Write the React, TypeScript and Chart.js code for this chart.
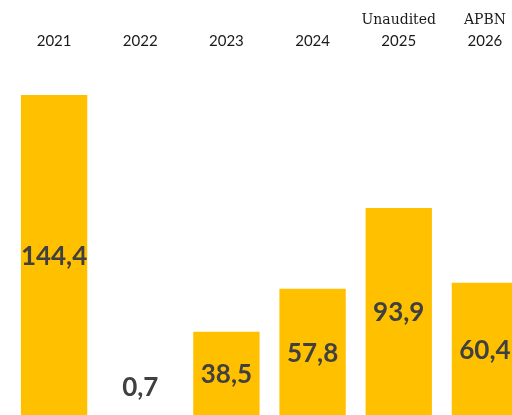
import React, { useEffect, useRef } from "react";
import { Chart, registerables } from "chart.js";

Chart.register(...registerables);

const years = ["2021", "2022", "2023", "2024", "2025", "2026"];
const topNotes = ["", "", "", "", "Unaudited", "APBN"];
const values = [144.4, 0.7, 38.5, 57.8, 93.9, 60.4];

const valueLabels = {
  id: "valueLabels",
  afterDatasetsDraw(chart: any) {
    const ctx = chart.ctx;
    const meta = chart.getDatasetMeta(0);
    ctx.save();
    ctx.font = "bold 26px Lato";
    ctx.fillStyle = "#404040";
    ctx.textAlign = "center";
    ctx.textBaseline = "middle";
    meta.data.forEach((bar: any, i: number) => {
      const v = values[i];
      const txt = v.toFixed(1).replace(".", ",");
      const h = bar.base - bar.y;
      const y = h > 40 ? (bar.y + bar.base) / 2 : bar.y - 29;
      ctx.fillText(txt, bar.x, y);
    });
    ctx.restore();
  },
};

export default function App() {
  const ref = useRef<HTMLCanvasElement>(null);
  useEffect(() => {
    document.documentElement.style.overflow = "hidden";
    document.body.style.overflow = "hidden";
    const chart = new Chart(ref.current!, {
      type: "bar",
      data: {
        labels: years,
        datasets: [
          {
            data: values,
            backgroundColor: "#FFC000",
            borderWidth: 0,
            barPercentage: 0.77,
            categoryPercentage: 1,
            xAxisID: "x",
          },
        ],
      },
      options: {
        responsive: false,
        animation: false,
        devicePixelRatio: 1,
        layout: { padding: { left: 3, right: 0, top: 0, bottom: 0 } },
        plugins: { legend: { display: false }, tooltip: { enabled: false } },
        scales: {
          x: {
            position: "top",
            weight: 0,
            grid: { display: false, drawTicks: false },
            border: { display: false },
            ticks: {
              autoSkip: false,
              maxRotation: 0,
              padding: 10,
              color: "#1a1a1a",
              font: { family: "Lato", size: 15 },
            },
            afterFit: (axis: any) => {
              axis.height = 26;
            },
          },
          x2: {
            type: "category",
            labels: topNotes,
            position: "top",
            weight: 1,
            grid: { display: false, drawTicks: false },
            border: { display: false },
            ticks: {
              autoSkip: false,
              maxRotation: 0,
              padding: 5,
              color: "#1a1a1a",
              font: { family: "DejaVu Serif", size: 14 },
            },
            afterFit: (axis: any) => {
              axis.height = 26;
            },
          },
          y: {
            display: false,
            min: 0,
            max: 160,
          },
        },
      },
      plugins: [valueLabels],
    });
    return () => chart.destroy();
  }, []);
  return (
    <div style={{ position: "fixed", left: 8, top: 8, width: 520, height: 410, overflow: "hidden" }}>
      <canvas ref={ref} width={520} height={410} style={{ display: "block" }} />
    </div>
  );
}
